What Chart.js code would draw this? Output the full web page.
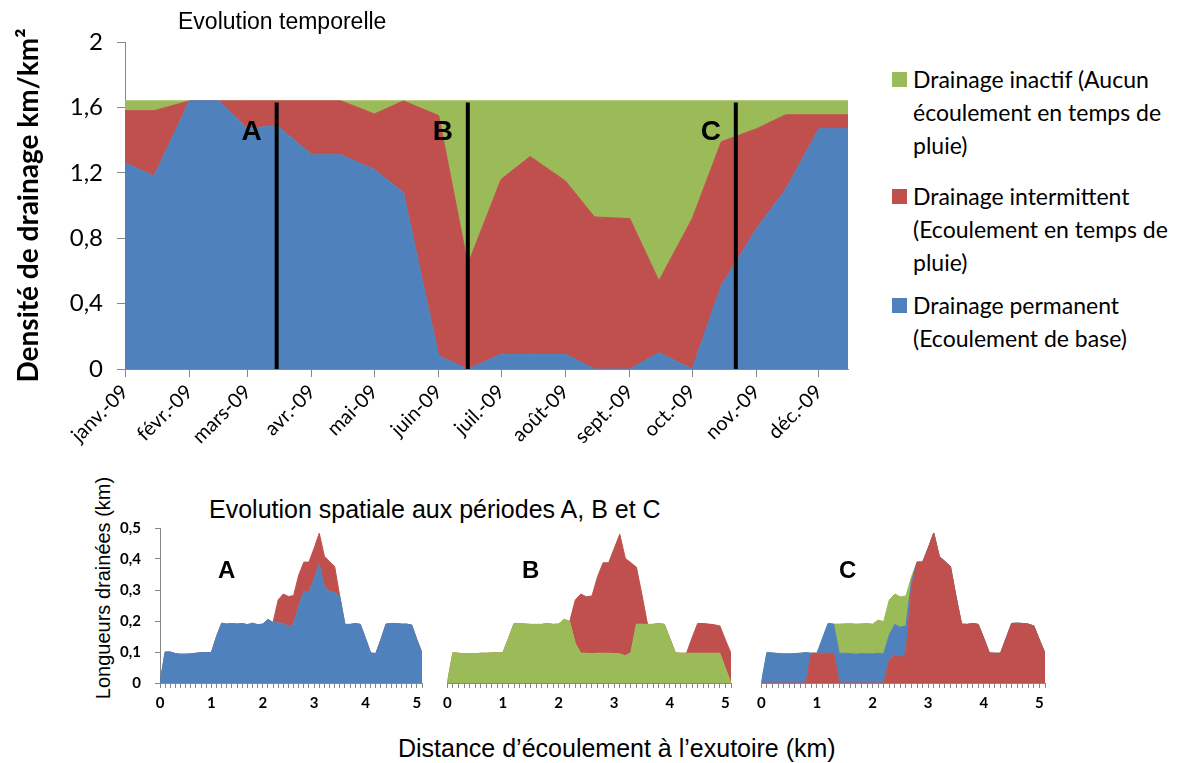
<!DOCTYPE html>
<html lang="fr">
<head>
<meta charset="utf-8">
<title>Evolution du drainage</title>
<script src="https://cdn.jsdelivr.net/npm/chart.js@4.4.1/dist/chart.umd.min.js"></script>
<style>
  html, body { margin: 0; padding: 0; background: #fff; }
  #page { position: relative; width: 1185px; height: 763px; overflow: hidden; font-family: "Liberation Sans", Arial, sans-serif; color: #000; }
  canvas { position: absolute; }
  .texte { position: absolute; white-space: nowrap; line-height: 30px; }
  .legende { position: absolute; left: 892px; font-family: Lato, sans-serif; font-size: 23px; line-height: 33px; color: #000; white-space: nowrap; }
  .legende .carre { position: absolute; left: 0; top: 9px; width: 15px; height: 15px; }
  .legende .lib { margin-left: 21px; }
</style>
</head>
<body>
<div id="page">
  <canvas id="graphTemps" width="870" height="470" style="left:0;top:0"></canvas>
  <div class="texte" style="left:178px;top:6px;font-size:23px">Evolution temporelle</div>

  <div class="legende" style="top:63px">
    <span class="carre" style="background:#9BBB59"></span>
    <div class="lib">Drainage inactif (Aucun<br>écoulement en temps de<br>pluie)</div>
  </div>
  <div class="legende" style="top:180px">
    <span class="carre" style="background:#C0504D"></span>
    <div class="lib">Drainage intermittent<br>(Ecoulement en temps de<br>pluie)</div>
  </div>
  <div class="legende" style="top:289px">
    <span class="carre" style="background:#4F81BD"></span>
    <div class="lib">Drainage permanent<br>(Ecoulement de base)</div>
  </div>

  <div class="texte" style="left:209px;top:494px;font-size:25px">Evolution spatiale aux périodes A, B et C</div>
  <div class="texte" style="left:103px;top:588px;font-size:20px;transform:translate(-50%,-50%) rotate(-90deg)">Longueurs drainées (km)</div>
  <canvas id="profilA" width="330" height="230" style="left:100px;top:500px"></canvas>
  <canvas id="profilB" width="300" height="230" style="left:437px;top:500px"></canvas>
  <canvas id="profilC" width="300" height="230" style="left:751px;top:500px"></canvas>
  <div class="texte" style="left:398px;top:733px;font-size:25px">Distance d’écoulement à l’exutoire (km)</div>
</div>

<script>
// Evolution temporelle : dates de mesure (1er et 15 de chaque mois)
const dates = ['2009-01-01', '2009-01-15', '2009-02-01', '2009-02-15', '2009-03-01', '2009-03-15',
  '2009-04-01', '2009-04-15', '2009-05-01', '2009-05-15', '2009-06-01', '2009-06-15',
  '2009-07-01', '2009-07-15', '2009-08-01', '2009-08-15', '2009-09-01', '2009-09-15',
  '2009-10-01', '2009-10-15', '2009-11-01', '2009-11-15', '2009-12-01', '2009-12-15'];

// densités de drainage (km/km²)
const drainPermanent = [1.26, 1.18, 1.64, 1.64, 1.47, 1.49, 1.31, 1.31, 1.22, 1.08, 0.08, 0.00,
  0.09, 0.09, 0.09, 0.00, 0.00, 0.10, 0.00, 0.51, 0.86, 1.10, 1.47, 1.47];
const drainIntermittent = [0.32, 0.40, 0.00, 0.00, 0.17, 0.15, 0.33, 0.33, 0.34, 0.56, 1.47, 0.64,
  1.07, 1.21, 1.06, 0.93, 0.92, 0.44, 0.92, 0.88, 0.61, 0.455, 0.085, 0.085];
const drainInactif = [0.06, 0.06, 0.00, 0.00, 0.00, 0.00, 0.00, 0.00, 0.08, 0.00, 0.09, 1.00,
  0.48, 0.34, 0.49, 0.71, 0.72, 1.10, 0.72, 0.25, 0.17, 0.085, 0.085, 0.085];

// axe des temps
const moisDebut = ['2009-01-01', '2009-02-01', '2009-03-01', '2009-04-01', '2009-05-01', '2009-06-01',
  '2009-07-01', '2009-08-01', '2009-09-01', '2009-10-01', '2009-11-01', '2009-12-01'];
const moisLabels = ['janv.-09', 'févr.-09', 'mars-09', 'avr.-09', 'mai-09', 'juin-09',
  'juil.-09', 'août-09', 'sept.-09', 'oct.-09', 'nov.-09', 'déc.-09'];
const densiteTicks = [0, 0.4, 0.8, 1.2, 1.6, 2];

// périodes A, B et C (traits verticaux)
const periodes = ['A', 'B', 'C'];
const periodesDates = ['2009-03-15', '2009-06-15', '2009-10-22'];
const hauteurTrait = 1.63;

// Evolution spatiale : distance à l'exutoire (km)
const distances = [0, 0.1, 0.2, 0.3, 0.4, 0.5, 0.6, 0.7, 0.8, 0.9,
  1, 1.1, 1.2, 1.3, 1.4, 1.5, 1.6, 1.7, 1.8, 1.9,
  2, 2.1, 2.2, 2.3, 2.4, 2.5, 2.6, 2.7, 2.8, 2.9,
  3, 3.1, 3.2, 3.3, 3.4, 3.5, 3.6, 3.7, 3.8, 3.9,
  4, 4.1, 4.2, 4.3, 4.4, 4.5, 4.6, 4.7, 4.8, 4.9,
  5, 5.1];
const longueurTicks = [0, 0.1, 0.2, 0.3, 0.4, 0.5];

// période A
const profilAPermanent = [0, 0.10, 0.10, 0.095, 0.093, 0.093, 0.094, 0.096, 0.098, 0.098,
  0.098, 0.15, 0.193, 0.19, 0.192, 0.19, 0.192, 0.188, 0.193, 0.188,
  0.19, 0.205, 0.195, 0.194, 0.192, 0.181, 0.19, 0.248, 0.295, 0.295,
  0.335, 0.383, 0.309, 0.295, 0.292, 0.279, 0.189, 0.189, 0.192, 0.189,
  0.144, 0.097, 0.095, 0.14, 0.19, 0.192, 0.192, 0.19, 0.19, 0.187,
  0.14, 0.097];
const profilAIntermittent = [0, 0, 0, 0, 0, 0, 0, 0, 0, 0,
  0, 0, 0, 0, 0, 0, 0, 0, 0, 0,
  0, 0, 0, 0.074, 0.095, 0.098, 0.092, 0.10, 0.095, 0.095,
  0.10, 0.10, 0.10, 0.097, 0.084, 0, 0, 0, 0, 0,
  0, 0, 0, 0, 0, 0, 0, 0, 0, 0,
  0, 0];

// période B
const profilBInactif = [0, 0.098, 0.096, 0.094, 0.094, 0.094, 0.096, 0.096, 0.097, 0.098,
  0.098, 0.144, 0.192, 0.192, 0.19, 0.189, 0.189, 0.189, 0.192, 0.189,
  0.19, 0.205, 0.198, 0.128, 0.096, 0.096, 0.095, 0.096, 0.096, 0.096,
  0.095, 0.094, 0.088, 0.098, 0.19, 0.19, 0.189, 0.189, 0.192, 0.189,
  0.144, 0.097, 0.096, 0.096, 0.096, 0.096, 0.096, 0.096, 0.096, 0.096,
  0.047, 0];
const profilBIntermittent = [0, 0, 0, 0, 0, 0, 0, 0, 0, 0,
  0, 0, 0, 0, 0, 0, 0, 0, 0, 0,
  0, 0, 0, 0.14, 0.191, 0.182, 0.186, 0.247, 0.292, 0.292,
  0.339, 0.386, 0.314, 0.29, 0.183, 0.094, 0, 0, 0, 0,
  0, 0, 0, 0, 0.05, 0.096, 0.096, 0.094, 0.092, 0.088,
  0.092, 0.096];

// période C
const profilCIntermittent = [0, 0, 0, 0, 0, 0, 0, 0, 0, 0.096,
  0.096, 0.096, 0.096, 0.096, 0, 0, 0, 0, 0, 0,
  0, 0, 0, 0.074, 0.091, 0.083, 0.094, 0.31, 0.39, 0.39,
  0.435, 0.484, 0.408, 0.392, 0.376, 0.279, 0.19, 0.189, 0.192, 0.189,
  0.144, 0.097, 0.096, 0.096, 0.144, 0.192, 0.193, 0.192, 0.19, 0.184,
  0.139, 0.096];
const profilCPermanent = [0, 0.098, 0.097, 0.095, 0.094, 0.094, 0.095, 0.096, 0.098, 0,
  0, 0.048, 0.096, 0.094, 0.096, 0.096, 0.095, 0.093, 0.095, 0.094,
  0.094, 0.096, 0.094, 0.081, 0.098, 0.097, 0.09, 0.02, 0, 0,
  0, 0, 0, 0, 0, 0, 0, 0, 0, 0,
  0, 0, 0, 0, 0, 0, 0, 0, 0, 0,
  0, 0];
const profilCInactif = [0, 0, 0, 0, 0, 0, 0, 0, 0, 0,
  0, 0, 0, 0, 0.094, 0.095, 0.097, 0.097, 0.096, 0.098,
  0.096, 0.107, 0.104, 0.113, 0.098, 0.098, 0.097, 0.013, 0, 0,
  0, 0, 0, 0, 0, 0, 0, 0, 0, 0,
  0, 0, 0, 0, 0, 0, 0, 0, 0, 0,
  0, 0];

const BLEU = '#4F81BD';
const ROUGE = '#C0504D';
const VERT = '#9BBB59';
const GRIS_AXE = '#868686';

// nombre de jours depuis le 1er janvier 2009
function jour(d) {
  const [a, m, j] = d.split('-').map(Number);
  return (Date.UTC(a, m - 1, j) - Date.UTC(2009, 0, 1)) / 86400000;
}

function virgule(v) {
  return String(v).replace('.', ',');
}

function aire(xs, valeurs, couleur, remplissage) {
  return {
    data: valeurs.map((v, i) => ({ x: xs[i], y: v })),
    backgroundColor: couleur,
    borderColor: couleur,
    borderWidth: 1,
    pointRadius: 0,
    tension: 0,
    fill: remplissage
  };
}

// lettres A, B, C posées sur le graphique
function pluginLettres(lettres, xs, yVal, decalage, police) {
  return {
    id: 'lettres',
    afterDatasetsDraw(chart) {
      const ctx = chart.ctx;
      ctx.save();
      ctx.font = police;
      ctx.fillStyle = '#000';
      ctx.textAlign = 'center';
      ctx.textBaseline = 'middle';
      lettres.forEach((l, k) => {
        const x = chart.scales.x.getPixelForValue(xs[k]) + decalage;
        const y = chart.scales.y.getPixelForValue(yVal);
        ctx.fillText(l, x, y);
      });
      ctx.restore();
    }
  };
}

Chart.defaults.animation = false;
Chart.defaults.plugins.legend.display = false;
Chart.defaults.plugins.tooltip.enabled = false;
Chart.defaults.events = [];

// ---- Graphique 1 : évolution temporelle ----
const joursMesure = dates.map(jour);
// order -1 : les traits passent par-dessus les aires
const traits = periodes.map((p, k) => ({
  data: [{ x: jour(periodesDates[k]), y: 0 }, { x: jour(periodesDates[k]), y: hauteurTrait }],
  borderColor: '#000',
  borderWidth: 4,
  pointRadius: 0,
  fill: false,
  order: -1,
  stack: 'trait' + p
}));

new Chart(document.getElementById('graphTemps'), {
  type: 'line',
  data: {
    datasets: [
      aire(joursMesure, drainPermanent, BLEU, 'origin'),
      aire(joursMesure, drainIntermittent, ROUGE, '-1'),
      aire(joursMesure, drainInactif, VERT, '-1')
    ].concat(traits)
  },
  options: {
    responsive: false,
    layout: { padding: { top: 42, right: 22, left: 0, bottom: 0 } },
    scales: {
      x: {
        type: 'linear',
        min: 0,
        max: jour(dates[dates.length - 1]),
        afterBuildTicks: s => { s.ticks = moisDebut.map(d => ({ value: jour(d) })); },
        afterFit: s => { s.height = 101; },
        ticks: {
          autoSkip: false,
          minRotation: 45,
          maxRotation: 45,
          padding: 3,
          color: '#000',
          font: { family: 'Lato', size: 20 },
          callback: (v, i) => moisLabels[i]
        },
        grid: { drawOnChartArea: false, tickLength: 8, color: GRIS_AXE },
        border: { color: GRIS_AXE }
      },
      y: {
        stacked: true,
        min: 0,
        max: 2,
        afterBuildTicks: s => { s.ticks = densiteTicks.map(v => ({ value: v })); },
        afterFit: s => { s.width = 125; },
        ticks: {
          padding: 14,
          color: '#000',
          font: { family: 'Lato', size: 24 },
          callback: v => virgule(v)
        },
        grid: { drawOnChartArea: false, tickLength: 8, color: GRIS_AXE },
        border: { color: GRIS_AXE },
        title: {
          display: true,
          text: 'Densité de drainage km/km²',
          color: '#000',
          font: { family: 'Lato', size: 28, weight: 'bold' },
          padding: { top: 12, bottom: 0 }
        }
      }
    }
  },
  plugins: [pluginLettres(periodes, periodesDates.map(jour), 1.45, -25, 'bold 28px "Liberation Sans"')]
});

// ---- Graphiques 2 à 4 : évolution spatiale ----
function creerProfil(id, series, lettre, xLettre, avecAxeY, padding) {
  new Chart(document.getElementById(id), {
    type: 'line',
    data: {
      datasets: series.map((s, k) => aire(distances, s.valeurs, s.couleur, k === 0 ? 'origin' : '-1'))
    },
    options: {
      responsive: false,
      layout: { padding: padding },
      scales: {
        x: {
          type: 'linear',
          min: 0,
          max: distances[distances.length - 1],
          afterBuildTicks: s => { s.ticks = distances.map(v => ({ value: v })); },
          afterFit: s => { s.height = 47; },
          ticks: {
            autoSkip: false,
            maxRotation: 0,
            padding: 6,
            color: '#000',
            font: { family: 'Lato', size: 15, weight: 'bold' },
            callback: v => Number.isInteger(v) ? String(v) : ''
          },
          grid: { drawOnChartArea: false, tickLength: 5, color: GRIS_AXE },
          border: { color: GRIS_AXE }
        },
        y: {
          display: avecAxeY,
          stacked: true,
          min: 0,
          max: 0.5,
          afterBuildTicks: s => { s.ticks = longueurTicks.map(v => ({ value: v })); },
          afterFit: s => { if (avecAxeY) s.width = 60; },
          ticks: {
            padding: 14,
            color: '#000',
            font: { family: 'Lato', size: 15, weight: 'bold' },
            callback: v => virgule(v)
          },
          grid: { drawOnChartArea: false, tickLength: 5, color: GRIS_AXE },
          border: { color: GRIS_AXE }
        }
      }
    },
    plugins: [pluginLettres([lettre], [xLettre], 0.36, 0, 'bold 24px "Liberation Sans"')]
  });
}

creerProfil('profilA', [
  { valeurs: profilAPermanent, couleur: BLEU },
  { valeurs: profilAIntermittent, couleur: ROUGE }
], 'A', 1.3, true, { top: 28, right: 8, left: 0, bottom: 0 });

creerProfil('profilB', [
  { valeurs: profilBInactif, couleur: VERT },
  { valeurs: profilBIntermittent, couleur: ROUGE }
], 'B', 1.5, false, { top: 28, right: 6, left: 0, bottom: 0 });

creerProfil('profilC', [
  { valeurs: profilCIntermittent, couleur: ROUGE },
  { valeurs: profilCPermanent, couleur: BLEU },
  { valeurs: profilCInactif, couleur: VERT }
], 'C', 1.55, false, { top: 28, right: 3, left: 0, bottom: 0 });
</script>
</body>
</html>
